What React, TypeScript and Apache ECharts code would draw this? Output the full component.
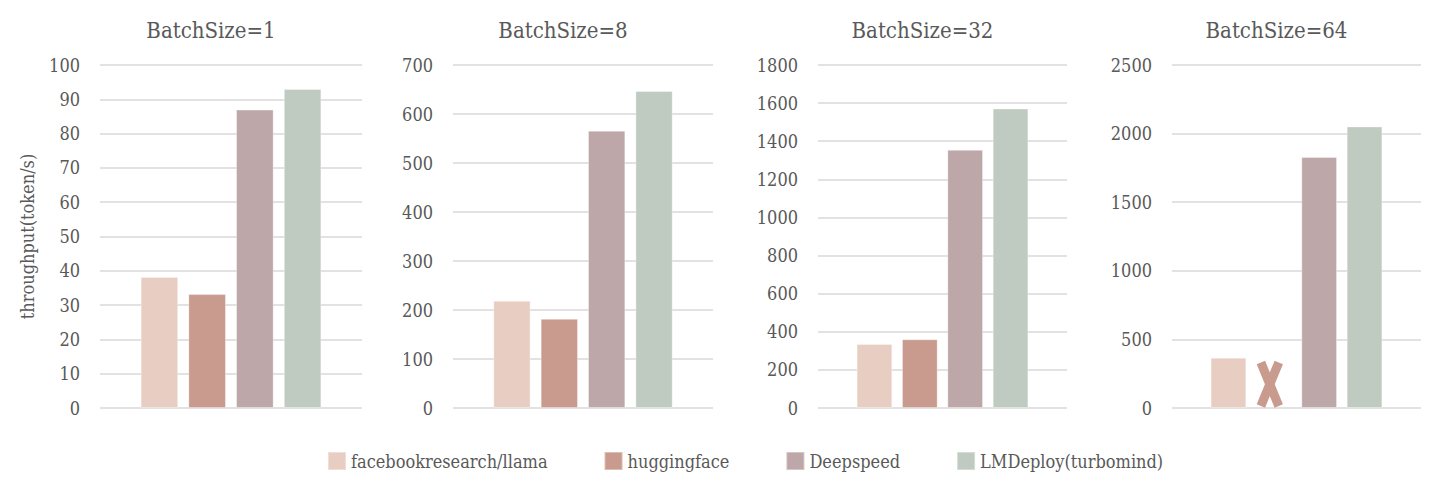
import React, { useEffect, useRef } from "react";
import * as echarts from "echarts";

const panelTitles = ["BatchSize=1", "BatchSize=8", "BatchSize=32", "BatchSize=64"];
const seriesNames = ["facebookresearch/llama", "huggingface", "Deepspeed", "LMDeploy(turbomind)"];
const facebookValues = [38.2, 219, 336, 367];
const huggingfaceValues = [33.2, 182, 361, null];
const deepspeedValues = [87, 566, 1355, 1829];
const lmdeployValues = [93, 647, 1572, 2052];
const axisMax = [100, 700, 1800, 2500];
const axisStep = [10, 100, 200, 500];
// panel index where huggingface has no result (drawn as an X)
const missingPanels = [3];

const colors = ["#E8CDC2", "#C99A8E", "#BDA7A8", "#BFCAC1"];
const gridLefts = [100, 453, 818, 1172];
const gridWidths = [262, 260, 249, 249];
const FONT = "'DejaVu Serif Condensed', 'DejaVu Serif', serif";
const TEXT = "#595959";
const CAT_GAP = 0.31;
const BAR_GAP = 0.27;

export default function App() {
  const ref = useRef<HTMLDivElement>(null);
  useEffect(() => {
    if (!ref.current) return;
    const chart = echarts.init(ref.current, undefined, { renderer: "svg" });
    const values = [facebookValues, huggingfaceValues, deepspeedValues, lmdeployValues];
    const grids: any[] = [];
    const xAxes: any[] = [];
    const yAxes: any[] = [];
    const titles: any[] = [];
    const series: any[] = [];
    panelTitles.forEach((t, p) => {
      grids.push({ left: gridLefts[p], width: gridWidths[p], top: 65, height: 343 });
      titles.push({
        text: t,
        left: gridLefts[p] + gridWidths[p] / 2 - 25,
        top: 14,
        textAlign: "center",
        textStyle: { fontFamily: FONT, fontSize: 22, fontWeight: "normal", color: TEXT },
      });
      xAxes.push({
        type: "category",
        gridIndex: p,
        data: [t],
        axisLine: { show: false },
        axisTick: { show: false },
        axisLabel: { show: false },
      });
      yAxes.push({
        type: "value",
        gridIndex: p,
        min: 0,
        max: axisMax[p],
        interval: axisStep[p],
        axisLine: { show: false },
        axisTick: { show: false },
        axisLabel: {
          fontFamily: FONT,
          fontSize: 18,
          color: TEXT,
          margin: 20,
          formatter: (v: number) => String(v),
        },
        splitLine: { lineStyle: { color: "#D9D9D9", width: 1.5 } },
        ...(p === 0
          ? {
              name: "throughput(token/s)",
              nameLocation: "middle",
              nameGap: 64,
              nameTextStyle: { fontFamily: FONT, fontSize: 18, color: TEXT },
            }
          : {}),
      });
      seriesNames.forEach((n, s) => {
        series.push({
          type: "bar",
          name: n,
          xAxisIndex: p,
          yAxisIndex: p,
          data: [values[s][p] === null ? "-" : values[s][p]],
          barCategoryGap: "31%",
          barGap: "27%",
          itemStyle: { color: colors[s], borderColor: "rgba(255,255,255,0.35)", borderWidth: 1 },
        });
      });
      if (missingPanels.includes(p)) {
        series.push({
          type: "custom",
          name: "missing",
          xAxisIndex: p,
          yAxisIndex: p,
          silent: true,
          data: [[0, 0]],
          renderItem: (params: any, api: any) => {
            const base = api.coord([0, 0]);
            const band = api.size([1, 0])[0];
            const w = (band * (1 - CAT_GAP)) / (4 + 3 * BAR_GAP);
            const pitch = w * (1 + BAR_GAP);
            const cx = base[0] - 0.5 * pitch - 4;
            const bottom = base[1] - 2;
            const h = w * 1.22;
            const hw = w * 0.25;
            const style = { stroke: colors[1], lineWidth: 9, lineCap: "butt" };
            return {
              type: "group",
              children: [
                { type: "line", shape: { x1: cx - hw, y1: bottom - h, x2: cx + hw, y2: bottom }, style },
                { type: "line", shape: { x1: cx + hw, y1: bottom - h, x2: cx - hw, y2: bottom }, style },
              ],
            };
          },
        });
      }
    });
    chart.setOption({
      animation: false,
      backgroundColor: "#ffffff",
      title: titles,
      grid: grids,
      xAxis: xAxes,
      yAxis: yAxes,
      legend: {
        data: seriesNames,
        left: 322,
        top: 446,
        icon: "rect",
        itemWidth: 18,
        itemHeight: 18,
        itemGap: 56,
        textStyle: { fontFamily: FONT, fontSize: 18, color: TEXT },
      },
      series,
    });
    return () => chart.dispose();
  }, []);
  return (
    <div
      ref={ref}
      style={{ position: "fixed", left: 0, top: 0, width: 1440, height: 483 }}
    />
  );
}
